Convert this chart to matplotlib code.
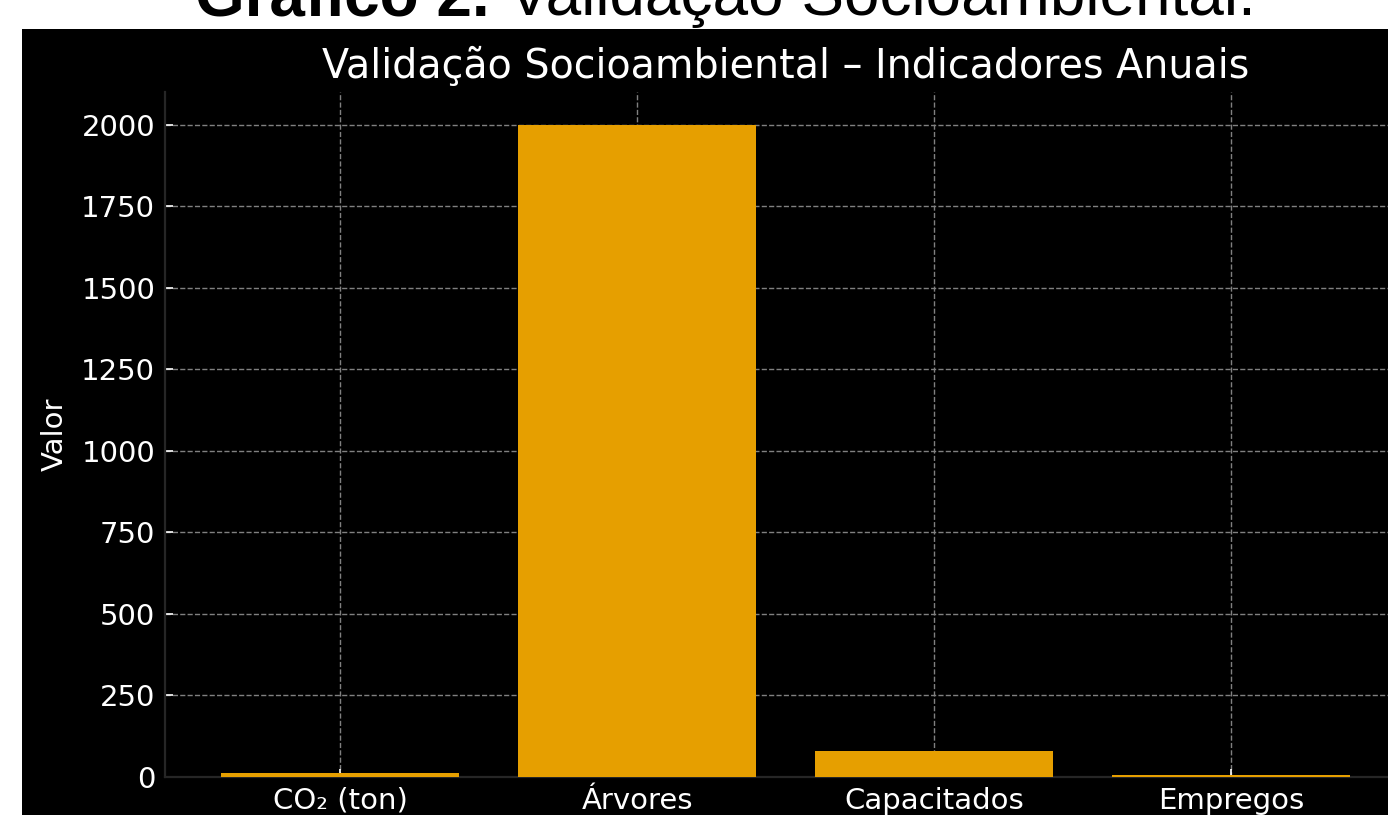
import matplotlib
matplotlib.use("Agg")
import matplotlib.pyplot as plt

W, H = 1388, 815

categories = ["CO₂ (ton)", "Árvores", "Capacitados", "Empregos"]
values = [12, 2000, 80, 6]
yticks = [0, 250, 500, 750, 1000, 1250, 1500, 1750, 2000]

fig = plt.figure(figsize=(W / 100, H / 100), dpi=100, facecolor="white")

# black chart image pasted into the document page
bg = fig.add_axes([22 / W, 0, 1 - 22 / W, 1 - 29 / H])
bg.set_facecolor("black")
bg.set_xticks([])
bg.set_yticks([])
for s in bg.spines.values():
    s.set_visible(False)

# document caption, cut off at the top
t1 = fig.text(195 / W, 1 - 15 / H, "Gráfico 2.", fontsize=46, fontweight="bold",
              family="Liberation Sans", color="black", va="baseline", ha="left")
r = fig.canvas.get_renderer()
bb = t1.get_window_extent(renderer=r)
fig.text(bb.x1 / W, 1 - 15 / H, " Validação Socioambiental.", fontsize=46,
         family="Liberation Sans", color="black", va="baseline", ha="left")

ax = fig.add_axes([165 / W, 1 - 777 / H, (1406 - 165) / W, (777 - 92) / H])
ax.set_facecolor("black")
ax.bar(categories, values, width=0.8, color="#E69F00", zorder=3)
ax.set_ylim(0, 2100)
ax.set_yticks(yticks)

ax.grid(True, color="#808080", linestyle="--", linewidth=1.0, zorder=1)
ax.set_axisbelow(True)

for s in ["top", "right"]:
    ax.spines[s].set_visible(False)
for s in ["left", "bottom"]:
    ax.spines[s].set_color("#262626")
    ax.spines[s].set_linewidth(1.6)

ax.tick_params(colors="white", labelcolor="white", labelsize=21, direction="in",
               length=6, width=1.2, pad=7)
ax.set_ylabel("Valor", color="white", fontsize=21, labelpad=9)
ax.set_title("Validação Socioambiental – Indicadores Anuais", color="white",
             fontsize=28.5, pad=10)

fig.savefig("out.png", dpi=100, facecolor="white")
